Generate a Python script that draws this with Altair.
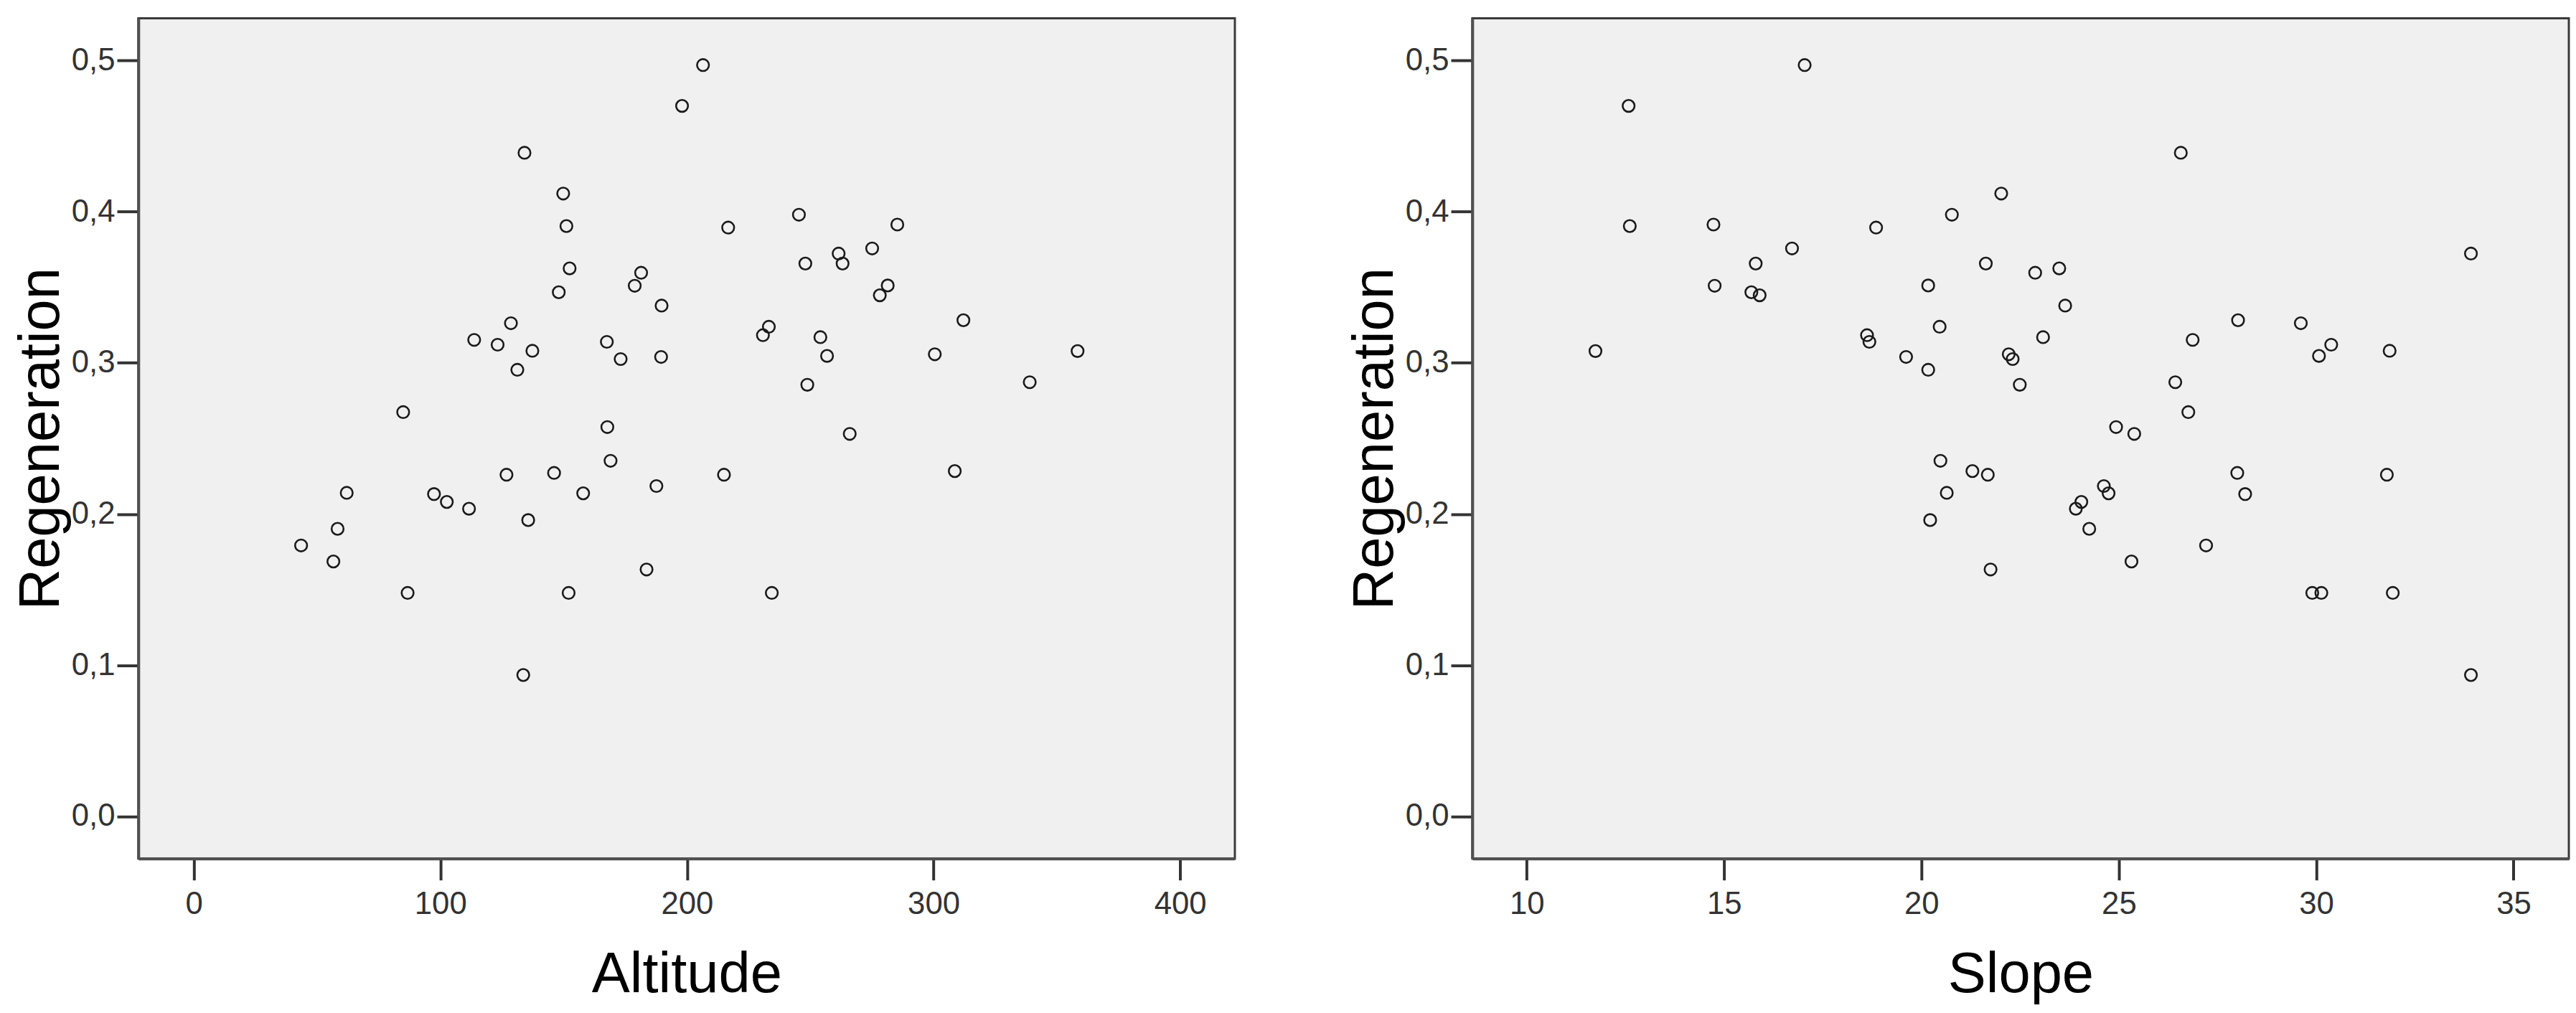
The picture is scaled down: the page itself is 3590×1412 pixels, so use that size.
import altair as alt
import pandas as pd

# Each site: altitude, slope, regeneration
altitude = [206.5, 198.0, 134.1, 149.8, 245.4, 285.3, 151.1, 216.7, 275.1, 261.5,
            248.0, 263.1, 152.4, 181.4, 281.4, 178.8, 148.0, 278.2, 189.7, 312.1,
            128.6, 233.2, 230.8, 254.1, 113.7, 167.5, 123.2, 137.3, 358.4, 300.5,
            256.8, 189.5, 173.1, 131.2, 339.0, 248.8, 84.9, 167.7, 266.0, 169.0,
            308.6, 146.1, 126.8, 215.0, 187.6, 62.0, 157.9, 97.4, 102.6, 111.6,
            135.6, 58.3, 43.5, 56.6, 183.6, 86.7, 152.0, 234.4, 133.6]
slope = [17.04, 12.58, 26.57, 22.02, 20.77, 14.73, 12.61, 18.85, 16.72, 33.92,
         15.80, 21.63, 23.49, 22.88, 20.17, 14.76, 15.69, 15.90, 23.64, 28.02,
         29.61, 20.46, 18.62, 23.08, 26.87, 18.68, 30.38, 31.86, 11.74, 22.21,
         30.07, 19.61, 22.31, 20.17, 26.43, 22.49, 26.76, 24.93, 25.39, 20.48,
         21.29, 28.00, 21.68, 31.79, 24.62, 20.64, 24.74, 28.20, 24.05, 23.91,
         20.22, 24.25, 27.21, 25.32, 21.75, 29.90, 30.13, 31.94, 33.92]
regeneration = [0.497, 0.470, 0.439, 0.412, 0.398, 0.3915, 0.3905, 0.3895, 0.3757, 0.3723,
                0.3657, 0.3657, 0.3625, 0.3596, 0.3512, 0.3510, 0.3467, 0.3447, 0.3379, 0.3282,
                0.3262, 0.3239, 0.3183, 0.3170, 0.3152, 0.3139, 0.3120, 0.3080, 0.3078, 0.3057,
                0.3046, 0.3039, 0.3025, 0.2954, 0.2872, 0.2855, 0.2674, 0.2575, 0.2530, 0.2352,
                0.2284, 0.2272, 0.2260, 0.2260, 0.2185, 0.2140, 0.2137, 0.2132, 0.2080, 0.2035,
                0.1960, 0.1902, 0.1792, 0.1686, 0.1633, 0.1478, 0.1478, 0.1478, 0.0935]

reg_ticks = [0.0, 0.1, 0.2, 0.3, 0.4, 0.5]
altitude_ticks = [0, 100, 200, 300, 400]
slope_ticks = [10, 15, 20, 25, 30, 35]

df = pd.DataFrame({"Altitude": altitude, "Slope": slope, "Regeneration": regeneration})

FONT = "Liberation Sans, Arial, sans-serif"
comma_expr = "replace(format(datum.value, '.1f'), '.', ',')"


def panel(field, domain, ticks):
    return alt.Chart(df).mark_point(
        shape="circle", filled=False, size=280, strokeWidth=2.6,
        color="#1a1a1a", opacity=1
    ).encode(
        x=alt.X(f"{field}:Q",
                scale=alt.Scale(domain=domain, nice=False, zero=False),
                axis=alt.Axis(values=ticks, format="d", title=field, labelFlush=False)),
        y=alt.Y("Regeneration:Q",
                scale=alt.Scale(domain=[-0.028, 0.528], nice=False, zero=False),
                axis=alt.Axis(values=reg_ticks, labelExpr=comma_expr, title="Regeneration",
                              minExtent=90, maxExtent=90)),
    ).properties(width=1538, height=1179)


chart = alt.hconcat(
    panel("Altitude", [-22.5, 422.2], altitude_ticks),
    panel("Slope", [8.62, 36.4], slope_ticks),
    spacing=153,
).properties(
    padding={"left": 8, "top": 11, "right": 0, "bottom": 5}
).configure_view(
    fill="#F0F0F0", stroke="#3a3a3a", strokeWidth=3
).configure_axis(
    grid=False,
    domainColor="#505050", domainWidth=4,
    tickColor="#333333", tickWidth=4, tickSize=30,
    labelFont=FONT, labelFontSize=44, labelColor="#333333",
    titleFont=FONT, titleFontSize=80, titleFontWeight="normal", titleColor="#000000",
).configure_axisX(
    labelPadding=12, titlePadding=38
).configure_axisY(
    labelPadding=3, titlePadding=4.6
)

chart.save("out.html", embed_options={"renderer": "svg", "actions": False})
